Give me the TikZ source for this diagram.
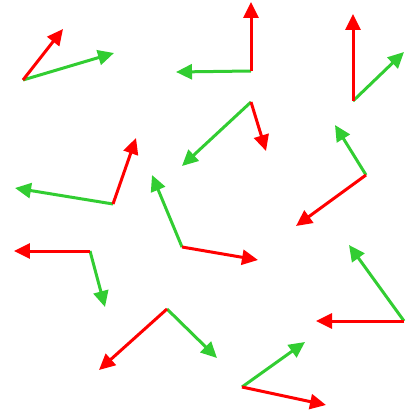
\documentclass[tikz,border=0pt]{standalone}
\usepackage{xcolor}
\usepackage{tikz}
\usetikzlibrary{arrows.meta}
\definecolor{xcolor}{RGB}{255, 0, 0}
\definecolor{ycolor}{RGB}{50, 205, 50}

\begin{document}
\begin{tikzpicture}[x=0.02cm,y=-0.02cm]
			\pgfmathsetmacro{\lw}{0.06}
			\tikzset{axis/.style={line width=\lw cm, -{Triangle[length=0.32cm,width=0.3cm]}}}
			\useasboundingbox (0,0) rectangle (412,412);
			% frame origins
			\coordinate (o1) at (23,80);
			\coordinate (o2) at (251,71);
			\coordinate (o3) at (353,101);
			\coordinate (o4) at (251,102);
			\coordinate (o5) at (113,204);
			\coordinate (o6) at (366,175);
			\coordinate (o7) at (182,247);
			\coordinate (o8) at (90,251);
			\coordinate (o9) at (167,309);
			\coordinate (o10) at (404,321);
			\coordinate (o11) at (242,387);
			% y axes
			\draw[axis, ycolor] (o1) -- (114,53);
			\draw[axis, ycolor] (o2) -- (176,72);
			\draw[axis, ycolor] (o3) -- (404,52);
			\draw[axis, ycolor] (o4) -- (182,166);
			\draw[axis, ycolor] (o5) -- (15,188);
			\draw[axis, ycolor] (o6) -- (335,125);
			\draw[axis, ycolor] (o7) -- (152,175);
			\draw[axis, ycolor] (o8) -- (105,307);
			\draw[axis, ycolor] (o9) -- (217,358);
			\draw[axis, ycolor] (o10) -- (349,245);
			\draw[axis, ycolor] (o11) -- (305,342);
			% x axes
			\draw[axis, xcolor] (o1) -- (63,29);
			\draw[axis, xcolor] (o2) -- (251,2);
			\draw[axis, xcolor] (o3) -- (353,14);
			\draw[axis, xcolor] (o4) -- (266,151);
			\draw[axis, xcolor] (o5) -- (136,138);
			\draw[axis, xcolor] (o6) -- (296,226);
			\draw[axis, xcolor] (o7) -- (258,260);
			\draw[axis, xcolor] (o8) -- (14,251);
			\draw[axis, xcolor] (o9) -- (99,370);
			\draw[axis, xcolor] (o10) -- (316,321);
			\draw[axis, xcolor] (o11) -- (326,405);
		\end{tikzpicture}
\end{document}
